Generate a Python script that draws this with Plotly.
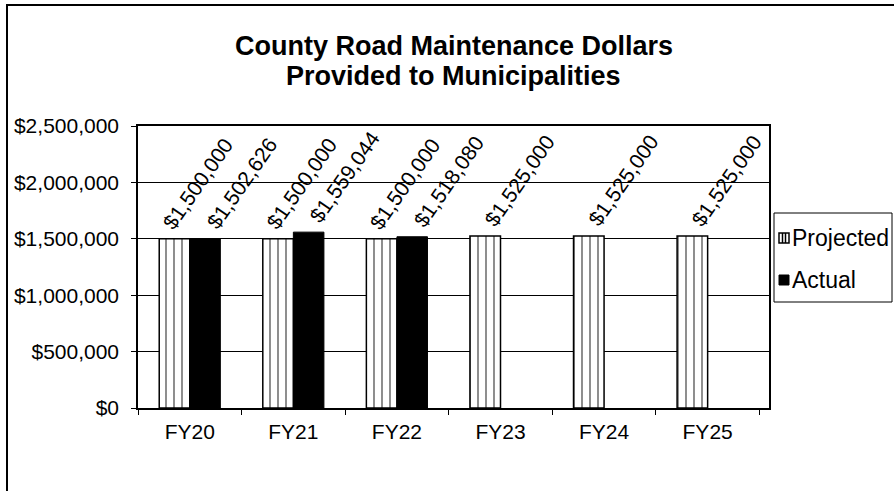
import plotly.graph_objects as go

categories = ["FY20", "FY21", "FY22", "FY23", "FY24", "FY25"]
projected = [1500000, 1500000, 1500000, 1525000, 1525000, 1525000]
actual = [1502626, 1559044, 1518080, None, None, None]
y_ticks = [0, 500000, 1000000, 1500000, 2000000, 2500000]
y_tick_labels = ["$0", "$500,000", "$1,000,000", "$1,500,000", "$2,000,000", "$2,500,000"]
title_lines = ["County Road Maintenance Dollars", "Provided to Municipalities"]

W, H = 894, 491
L, R, T, B = 138, 125, 126, 83
PW, PH = W - L - R, H - T - B
FONT = "Arial, Liberation Sans, sans-serif"

def px(x):
    return (x - L) / PW

def py(y):
    return (H - B - y) / PH

BARGAP = 0.41
bw = (1 - BARGAP) / 2

fig = go.Figure()
fig.add_trace(go.Bar(
    x=categories, y=projected, name="Projected",
    marker=dict(color="white", line=dict(color="black", width=1.5),
                pattern=dict(shape="|", fgcolor="black", bgcolor="white", size=8, solidity=0.22)),
))
fig.add_trace(go.Bar(
    x=categories, y=actual, name="Actual",
    marker=dict(color="black", line=dict(color="black", width=1)),
))

annotations = []
for i, v in enumerate(projected):
    has_actual = actual[i] is not None
    annotations.append(dict(
        x=i - bw / 2, y=v, xref="x", yref="y", text=f"${v:,.0f}", showarrow=False,
        textangle=-55, xanchor="left", yanchor="bottom",
        xshift=-19 if has_actual else -8, yshift=3,
        font=dict(family=FONT, size=21, color="black"),
    ))
for i, v in enumerate(actual):
    if v is None:
        continue
    annotations.append(dict(
        x=i + bw / 2, y=v, xref="x", yref="y", text=f"${v:,.0f}", showarrow=False,
        textangle=-55, xanchor="left", yanchor="bottom",
        xshift=-6, yshift=3,
        font=dict(family=FONT, size=21, color="black"),
    ))

# title (two lines)
for line, yc in zip(title_lines, [46, 76]):
    annotations.append(dict(
        x=0.5, y=py(yc), xref="paper", yref="paper", showarrow=False,
        text=f"<b>{line}</b>", xanchor="center", yanchor="middle",
        font=dict(family=FONT, size=27, color="black"),
    ))
# legend text
for label, yc in [("Projected", 238), ("Actual", 280)]:
    annotations.append(dict(
        x=px(790), y=py(yc), xref="paper", yref="paper", showarrow=False,
        text=label, xanchor="left", yanchor="middle",
        font=dict(family=FONT, size=23, color="black"),
    ))

shapes = [
    # chart outer border
    dict(type="rect", xref="paper", yref="paper",
         x0=px(7), x1=px(W + 20), y0=py(H + 20), y1=py(5),
         line=dict(color="black", width=2), fillcolor="rgba(0,0,0,0)", layer="above"),
    # legend box
    dict(type="rect", xref="paper", yref="paper",
         x0=px(774), x1=px(892), y0=py(302), y1=py(213),
         line=dict(color="black", width=1), fillcolor="white", layer="above"),
    # legend symbols
    dict(type="rect", xref="paper", yref="paper",
         x0=px(779), x1=px(789), y0=py(243), y1=py(233),
         line=dict(color="black", width=1.5), fillcolor="white", layer="above"),
    dict(type="line", xref="paper", yref="paper",
         x0=px(782.5), x1=px(782.5), y0=py(243), y1=py(233),
         line=dict(color="black", width=1.5), layer="above"),
    dict(type="line", xref="paper", yref="paper",
         x0=px(785.5), x1=px(785.5), y0=py(243), y1=py(233),
         line=dict(color="black", width=1.5), layer="above"),
    dict(type="rect", xref="paper", yref="paper",
         x0=px(779), x1=px(789), y0=py(285), y1=py(275),
         line=dict(color="black", width=1), fillcolor="black", layer="above"),
]

fig.update_layout(
    width=W, height=H,
    margin=dict(l=L, r=R, t=T, b=B, pad=0),
    paper_bgcolor="white", plot_bgcolor="white",
    barmode="group", bargap=BARGAP, bargroupgap=0,
    showlegend=False,
    font=dict(family=FONT, size=21, color="black"),
    annotations=annotations,
    shapes=shapes,
)
fig.update_xaxes(
    type="category", showline=True, mirror=True, linecolor="black", linewidth=1.5,
    ticks="outside", tickson="boundaries", ticklen=5, tickcolor="black",
    ticklabelstandoff=4,
    showgrid=False, tickfont=dict(family=FONT, size=21, color="black"),
)
fig.update_yaxes(
    range=[0, 2500000], tickvals=y_ticks, ticktext=y_tick_labels,
    showline=True, mirror=True, linecolor="black", linewidth=1.5,
    ticks="outside", ticklen=5, tickcolor="black", ticklabelstandoff=8,
    showgrid=True, gridcolor="black", gridwidth=1.2, zeroline=False,
    tickfont=dict(family=FONT, size=21, color="black"),
)

fig.write_html("out.html", config={"displayModeBar": False},
               post_script="document.body.style.margin='0';")
